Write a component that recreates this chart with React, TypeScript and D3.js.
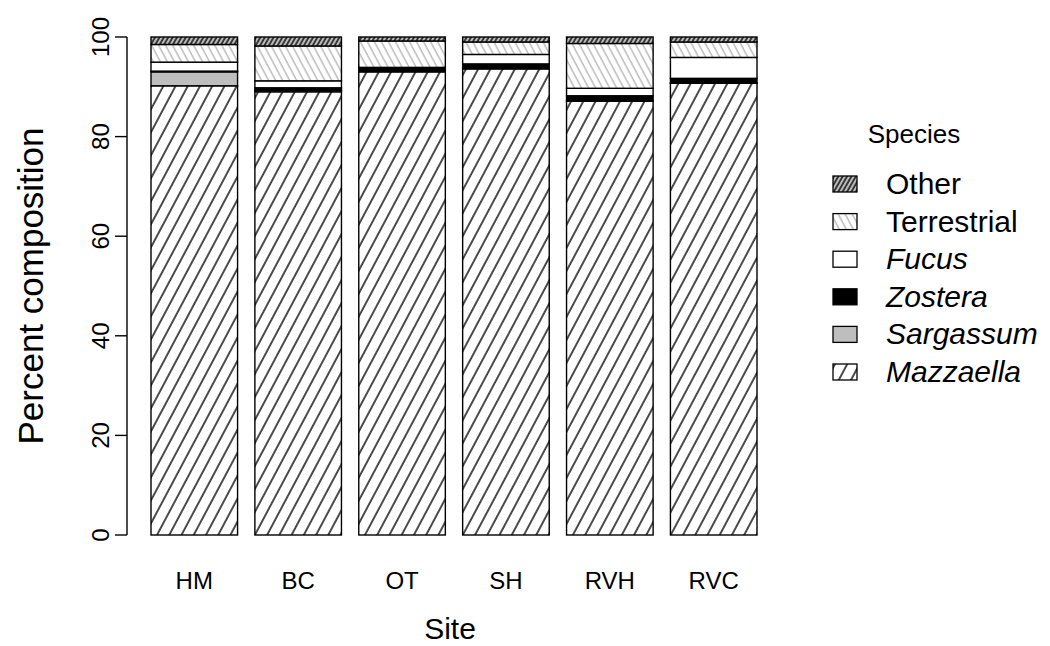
import * as d3 from 'd3';

const sites = ['HM', 'BC', 'OT', 'SH', 'RVH', 'RVC'];
// percent composition per site, stacked bottom to top
const mazzaella = [90.2, 89.0, 93.0, 93.6, 87.1, 90.7];
const sargassum = [2.8, 0.3, 0.0, 0.1, 0.2, 0.1];
const zostera = [0.15, 0.5, 0.9, 0.9, 0.9, 0.9];
const fucus = [1.8, 1.4, 0.0, 1.9, 1.5, 4.2];
const terrestrial = [3.55, 7.0, 5.3, 2.5, 9.0, 3.1];
const other = [1.5, 1.8, 0.8, 1.0, 1.3, 1.0];

const yTicks = [0, 20, 40, 60, 80, 100];

const species = [
  { key: 'mazzaella', label: 'Mazzaella', italic: true, values: mazzaella, fill: 'url(#pat-maz)' },
  { key: 'sargassum', label: 'Sargassum', italic: true, values: sargassum, fill: '#bebebe' },
  { key: 'zostera', label: 'Zostera', italic: true, values: zostera, fill: '#000' },
  { key: 'fucus', label: 'Fucus', italic: true, values: fucus, fill: '#fff' },
  { key: 'terrestrial', label: 'Terrestrial', italic: false, values: terrestrial, fill: 'url(#pat-ter)' },
  { key: 'other', label: 'Other', italic: false, values: other, fill: 'url(#pat-oth)' },
];

const W = 1050;
const H = 646;
const FONT = '"Liberation Sans", Arial, Helvetica, sans-serif';

export default function App() {
  const rows = sites.map((s, i) => {
    const r: Record<string, any> = { site: s };
    species.forEach((sp) => (r[sp.key] = sp.values[i]));
    return r;
  });
  const stacked = d3.stack<any>().keys(species.map((s) => s.key))(rows);

  const x = d3.scaleBand<string>().domain(sites).range([151, 757]).paddingInner(1 / 6).paddingOuter(0);
  const y = d3.scaleLinear().domain([0, 100]).range([535, 37]);

  const axisX = 127;
  const legendX = 833;
  const legendY0 = 184;
  const legendStep = 37.6;
  const legendItems = [...species].reverse();

  return (
    <svg
      width={W}
      height={H}
      style={{ position: 'absolute', left: 0, top: 0, background: '#fff' }}
      fontFamily={FONT}
    >
      <defs>
        <pattern id="pat-maz" patternUnits="userSpaceOnUse" width={10.8} height={10.8} patternTransform="rotate(28)">
          <rect width={10.8} height={10.8} fill="#fff" />
          <line x1={1} y1={0} x2={1} y2={10.8} stroke="#000" strokeWidth={1.4} />
        </pattern>
        <pattern id="pat-ter" patternUnits="userSpaceOnUse" width={6.2} height={6.2} patternTransform="rotate(-28)">
          <rect width={6.2} height={6.2} fill="#fff" />
          <line x1={1} y1={0} x2={1} y2={6.2} stroke="#b4b4b4" strokeWidth={1.3} />
        </pattern>
        <pattern id="pat-oth" patternUnits="userSpaceOnUse" width={3.8} height={3.8} patternTransform="rotate(30)">
          <rect width={3.8} height={3.8} fill="#bbb" />
          <line x1={1} y1={0} x2={1} y2={3.8} stroke="#111" strokeWidth={1.5} />
        </pattern>
      </defs>

      {stacked.map((layer, li) => (
        <g key={species[li].key}>
          {layer.map((d, i) => (
            <rect
              key={sites[i]}
              x={x(sites[i])}
              y={y(d[1])}
              width={x.bandwidth()}
              height={Math.max(0, y(d[0]) - y(d[1]))}
              fill={species[li].fill}
              stroke="#000"
              strokeWidth={1.4}
            />
          ))}
        </g>
      ))}

      {/* y axis */}
      <g stroke="#000" strokeWidth={1.4}>
        <line x1={axisX} x2={axisX} y1={y(0)} y2={y(100)} />
        {yTicks.map((t) => (
          <line key={t} x1={axisX - 12} x2={axisX} y1={y(t)} y2={y(t)} />
        ))}
      </g>
      {yTicks.map((t) => (
        <text
          key={t}
          transform={`translate(109,${y(t)}) rotate(-90)`}
          textAnchor="middle"
          fontSize={24}
          fill="#000"
        >
          {t}
        </text>
      ))}
      <text transform={`translate(43,${(y(0) + y(100)) / 2}) rotate(-90)`} textAnchor="middle" fontSize={35}>
        Percent composition
      </text>

      {/* x labels */}
      {sites.map((s) => (
        <text key={s} x={x(s)! + x.bandwidth() / 2} y={589} textAnchor="middle" fontSize={24}>
          {s}
        </text>
      ))}
      <text x={450} y={639} textAnchor="middle" fontSize={30}>
        Site
      </text>

      {/* legend */}
      <text x={914} y={143} textAnchor="middle" fontSize={26}>
        Species
      </text>
      {legendItems.map((sp, i) => {
        const cy = legendY0 + i * legendStep;
        return (
          <g key={sp.key}>
            <rect x={legendX} y={cy - 8} width={24} height={16} fill={sp.fill} stroke="#000" strokeWidth={1.3} />
            <text x={886} y={cy + 10} fontSize={30} fontStyle={sp.italic ? 'italic' : 'normal'}>
              {sp.label}
            </text>
          </g>
        );
      })}
    </svg>
  );
}
